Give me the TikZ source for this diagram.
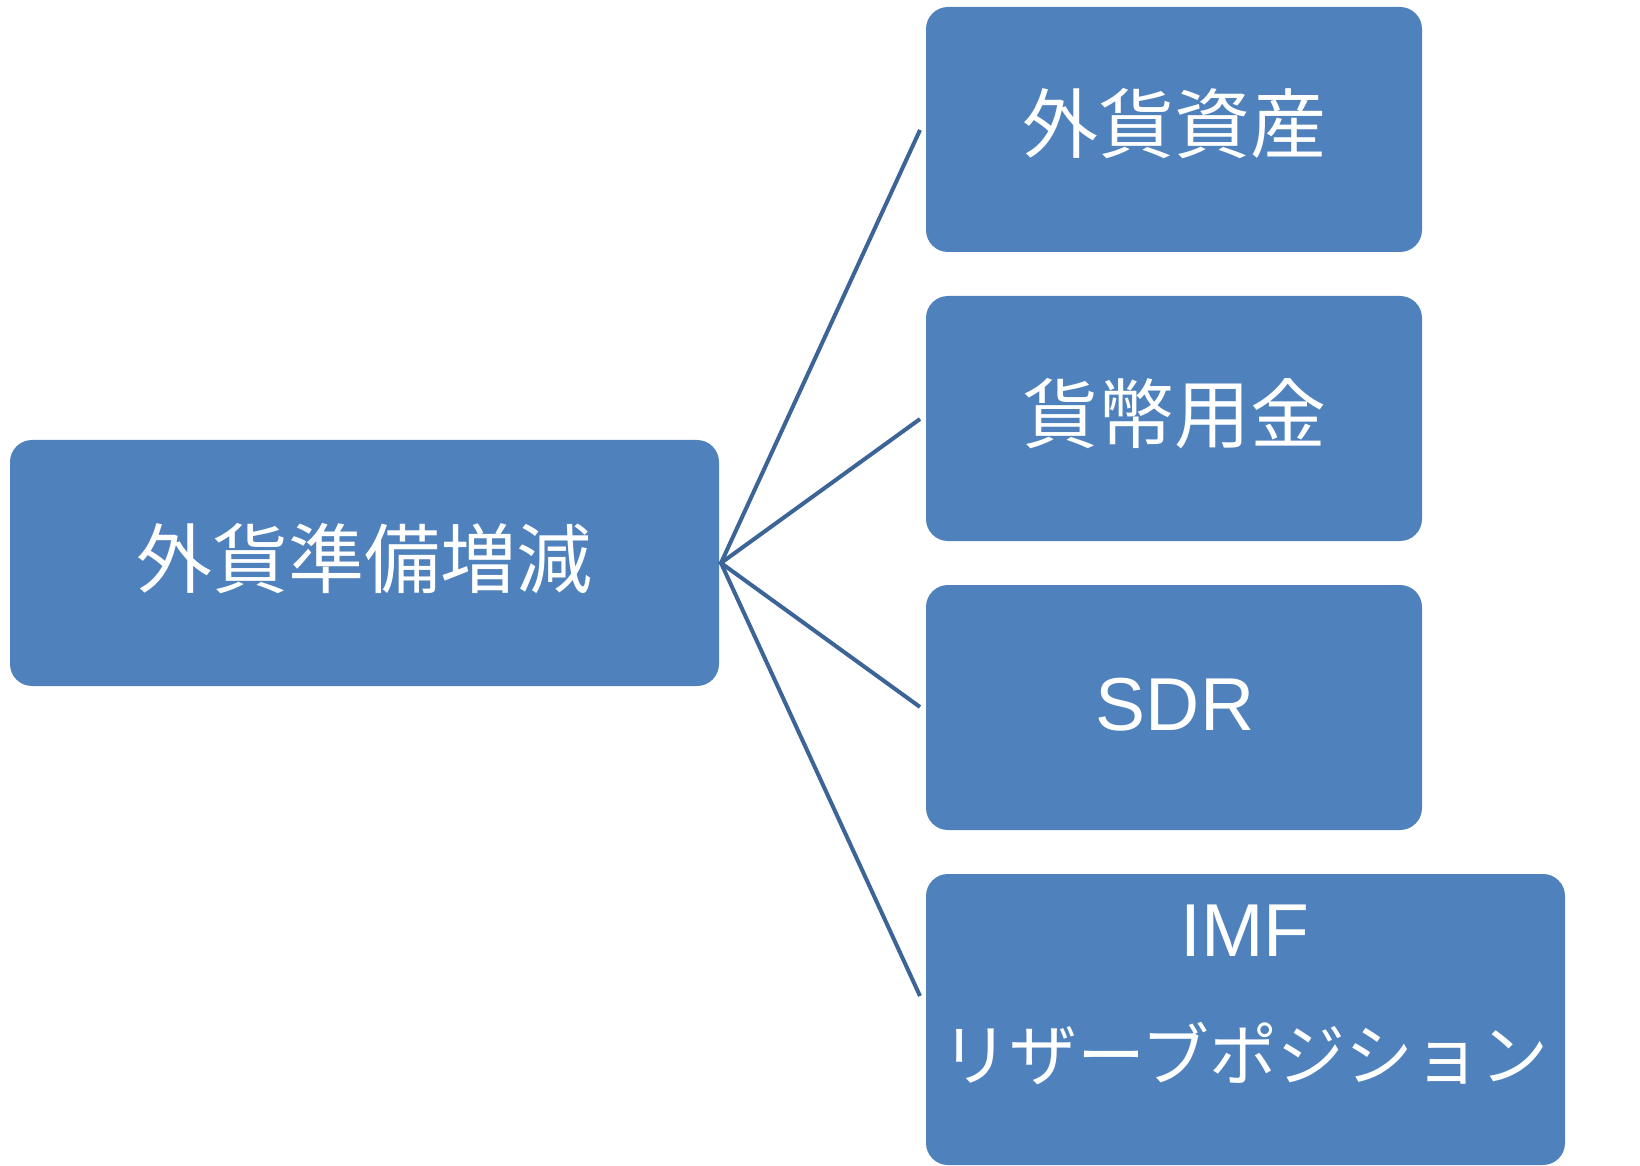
\documentclass[tikz,border=0pt]{standalone}
\usepackage{fontspec}
\setmainfont{Noto Sans CJK JP}
\newfontfamily\latfont{Liberation Sans}
\definecolor{boxblue}{HTML}{4F81BD}
\definecolor{lineblue}{HTML}{3C6497}
\tikzset{
  box/.style={draw=none, fill=boxblue, rounded corners=11pt, inner sep=0pt},
  lbl/.style={text=white, inner sep=0pt, font=\fontsize{38pt}{46pt}\selectfont},
  latlbl/.style={text=white, inner sep=0pt, font=\latfont\fontsize{37.5pt}{45pt}\selectfont},
  conn/.style={draw=lineblue, line width=2pt},
}
\begin{document}
\begin{tikzpicture}[x=0.5pt,y=-0.5pt]
\useasboundingbox (0,0) rectangle (1640,1166);
\node[box, minimum width=354.5pt, minimum height=123pt] (root) at (364.5,563) {};
\node[box, minimum width=248pt, minimum height=122.5pt] (a) at (1174,129.5) {};
\node[box, minimum width=248pt, minimum height=122.5pt] (b) at (1174,418.5) {};
\node[box, minimum width=248pt, minimum height=122.5pt] (c) at (1174,707.5) {};
\node[box, minimum width=319.5pt, minimum height=145.5pt] (d) at (1245.5,1019.5) {};
\node[lbl] (t0) at (364.5,558.5) {外貨準備増減};
\node[lbl] (t1) at (1174,124) {外貨資産};
\node[lbl] (t2) at (1174,413.5) {貨幣用金};
\node[latlbl] (t3) at (1175,704.5) {SDR};
\node[latlbl, anchor=base] (t4) at (1245,956) {IMF};
\node[lbl, anchor=base, font=\fontsize{34pt}{40pt}\selectfont] (t5) at (1245,1080) {リザーブポジション};
\coordinate (hub) at (721,563);
\coordinate (e1) at (920,130);
\coordinate (e2) at (920,419);
\coordinate (e3) at (920,707);
\coordinate (e4) at (920,996);
\draw[conn] (e1) -- (hub) -- (e4);
\draw[conn] (e2) -- (hub) -- (e3);
\end{tikzpicture}
\end{document}
